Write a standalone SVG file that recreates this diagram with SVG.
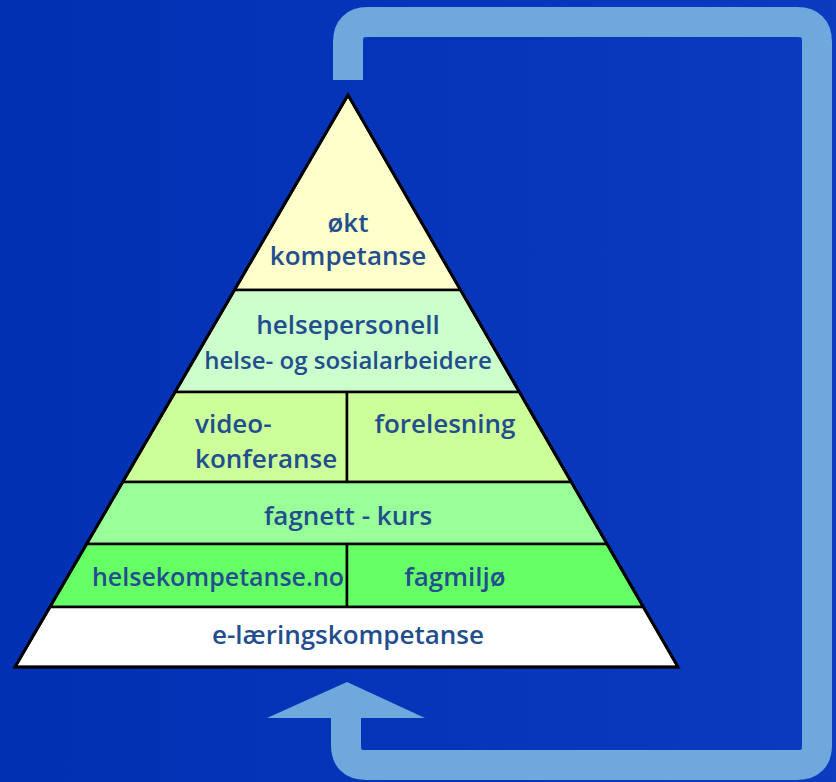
<svg xmlns="http://www.w3.org/2000/svg" width="836" height="782" viewBox="0 0 836 782">
<defs>
<linearGradient id="bg" x1="0" y1="0" x2="1" y2="0">
<stop offset="0" stop-color="#0230b2"/>
<stop offset="0.6" stop-color="#0836bb"/>
<stop offset="1" stop-color="#0c3bc0"/>
</linearGradient>
<style>
.band{stroke:#000;stroke-width:2.5;stroke-linejoin:round}
.t{font-family:"Open Sans","Noto Sans",sans-serif;font-weight:600;font-size:26px;fill:#234e8e}
.c{text-anchor:middle}
.s24{font-size:24px}
.s25{font-size:25px}
.loop{fill:none;stroke:#6fa8dc;stroke-width:30;stroke-linejoin:round}
</style>
</defs>
<rect width="836" height="782" fill="url(#bg)"/>
<g id="connectors">
<path class="loop" d="M348,80 V42 Q348,22 368,22 H797 Q817,22 817,42 V745 Q817,765 797,765 H366 Q346,765 346,745 V716"/>
<polygon points="267,718 347,682 425,718" fill="#6fa8dc"/>
</g>
<g id="okt-kompetanse">
<polygon class="band" points="348,95 460.5,290 234.5,290" fill="#ffffcc"/>
<text class="t c" x="348" y="232">økt</text>
<text class="t c" x="348" y="265">kompetanse</text>
</g>
<g id="helsepersonell">
<polygon class="band" points="234.5,290 460.5,290 519.3,392 175.1,392" fill="#ccffcc"/>
<text class="t c" x="348" y="334">helsepersonell</text>
<text class="t c s24" x="348" y="369">helse- og sosialarbeidere</text>
</g>
<g id="videokonferanse">
<polygon class="band" points="175.1,392 347,392 347,482 122.7,482" fill="#ccff99"/>
<text class="t" x="195" y="433">video-</text>
<text class="t" x="195" y="468">konferanse</text>
</g>
<g id="forelesning">
<polygon class="band" points="347,392 519.3,392 571.3,482 347,482" fill="#ccff99"/>
<text class="t c" x="445" y="433">forelesning</text>
</g>
<g id="fagnett-kurs">
<polygon class="band" points="122.7,482 571.3,482 607,544 86.6,544" fill="#99ff99"/>
<text class="t c" x="348" y="525">fagnett - kurs</text>
</g>
<g id="helsekompetanse-no">
<polygon class="band" points="86.6,544 347,544 347,607 49.9,607" fill="#66ff66"/>
<text class="t c s25" x="218" y="586">helsekompetanse.no</text>
</g>
<g id="fagmiljo">
<polygon class="band" points="347,544 607,544 643.4,607 347,607" fill="#66ff66"/>
<text class="t c" x="455" y="586">fagmiljø</text>
</g>
<g id="e-laeringskompetanse">
<polygon class="band" points="49.9,607 643.4,607 678,667 15,667" fill="#ffffff"/>
<text class="t c" x="348" y="644">e-læringskompetanse</text>
</g>
<polygon points="348,95 678,667 15,667" fill="none" stroke="#000" stroke-width="3" stroke-linejoin="miter"/>
</svg>
